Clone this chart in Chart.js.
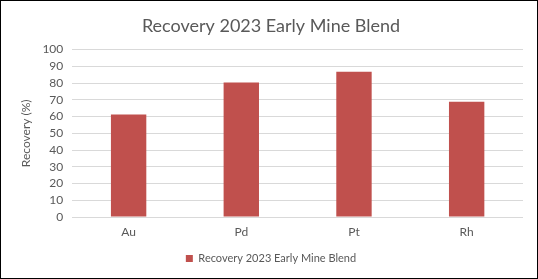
<!DOCTYPE html>
<html>
<head>
<meta charset="utf-8">
<script src="https://cdn.jsdelivr.net/npm/chart.js@4"></script>
<style>
    html, body { margin: 0; padding: 0; background: #fff; }
    #wrap { width: 536px; height: 277px; border: 1px solid #000; position: relative; }
</style>
</head>
<body>
<div id="wrap"><canvas id="recoveryChart" width="536" height="277"></canvas></div>
<script>
const categories = ['Au', 'Pd', 'Pt', 'Rh'];
const recovery = [61.2, 80.3, 86.8, 68.9];
const yTicks = [0, 10, 20, 30, 40, 50, 60, 70, 80, 90, 100];

const seriesName = 'Recovery 2023 Early Mine Blend';
const textColor = '#595959';

// get canvas for chart id
let ctx = document.getElementById('recoveryChart'),
    myChart = new Chart(ctx, {
        type: 'bar',
        data: {
            labels: categories,
            datasets: [{
                label: seriesName,
                data: recovery,
                backgroundColor: '#c0504d',
                categoryPercentage: 1,
                barPercentage: 0.314
            }]
        },
        options: {
            responsive: false,
            animation: false,
            layout: { padding: { left: 18, right: 14, top: 12, bottom: 4 } },
            plugins: {
                title: {
                    display: true,
                    text: seriesName,
                    color: textColor,
                    font: { size: 18, weight: 'normal', family: 'Lato, sans-serif' },
                    padding: { top: 2, bottom: 13 }
                },
                legend: {
                    position: 'bottom',
                    labels: {
                        color: textColor,
                        boxWidth: 7,
                        boxHeight: 7,
                        font: { size: 11, family: 'Lato, sans-serif' },
                        padding: 6
                    }
                },
                tooltip: { enabled: false }
            },
            scales: {
                x: {
                    grid: { display: false, drawTicks: false },
                    border: { display: false },
                    ticks: { color: textColor, font: { size: 12, family: 'Lato, sans-serif' }, padding: 8 },
                    afterFit: function (axis) {
                        axis.height = 30;
                    }
                },
                y: {
                    min: 0,
                    max: 100,
                    afterBuildTicks: function (axis) {
                        axis.ticks = yTicks.map(function (v) { return { value: v }; });
                    },
                    grid: { color: '#d9d9d9', drawTicks: false },
                    border: { display: false },
                    ticks: { color: textColor, autoSkip: false, font: { size: 12, family: 'Lato, sans-serif' }, padding: 9 },
                    title: {
                        display: true,
                        text: 'Recovery (%)',
                        color: textColor,
                        font: { size: 12, family: 'Lato, sans-serif' },
                        padding: { top: 0, bottom: 0 }
                    }
                }
            }
        }
    });
</script>
</body>
</html>
